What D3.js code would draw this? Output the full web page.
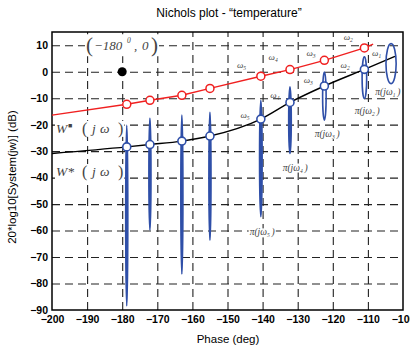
<!DOCTYPE html>
<html>
<head>
<meta charset="utf-8">
<script src="https://cdn.jsdelivr.net/npm/d3@7"></script>
<style>
  body { margin: 0; background: #fff; }
  svg text { font-family: "Liberation Sans", Arial, sans-serif; }
  .tick text { font-weight: bold; font-size: 10.5px; fill: #000; }
  text.serif { font-family: "Liberation Serif", "DejaVu Serif", serif; font-style: italic; fill: #444; }
</style>
</head>
<body>
<div id="chart"></div>
<script>
// x / y tick values
const phaseTicks = d3.range(-200, -99, 10);
const dbTicks = d3.range(-90, 11, 10);

// frequency points omega5..omega1 (left to right)
const pointPhase = [-178.7, -172.1, -163.0, -155.0, -140.5, -132.2, -122.4, -111.0];
const redDb = [-12.3, -10.8, -8.9, -6.3, -1.7, 0.8, 4.3, 9.0];
const blackDb = [-28.4, -27.5, -26.2, -24.3, -17.9, -11.6, -5.4, 0.9];

// full curves (start, points, end)
const redLinePhase = [-200, ...pointPhase, -108.5];
const redLineDb = [-16.4, ...redDb, 10.4];
const blackLinePhase = [-200, ...pointPhase, -102.3];
const blackLineDb = [-30.9, ...blackDb, 5.8];

// uncertainty templates
const tplPhase = [-178.7, -172.1, -163.0, -155.0, -140.5, -132.2, -122.4, -111.0, -103.4];
const tplTop = [-20.2, -17.5, -16.4, -15.3, -10.8, -5.7, -0.1, 5.6, 10.6];
const tplBottom = [-88.5, -59.8, -76.4, -63.6, -54.8, -30.9, -18.3, -10.1, -4.5];
const tplHalfWidth = [0.3, 0.3, 0.3, 0.3, 0.37, 0.37, 0.5, 0.65, 1.45];

// omega labels
const redOmegaPhase = [-146.0, -137.0, -126.2, -115.6, -107.5];
const redOmegaDb = [2.5, 5.7, 6.9, 13.2, 6.9];
const redOmegaIdx = [5, 4, 3, 2, 1];
const blackOmegaPhase = [-145.0, -136.5, -127.0, -116.5];
const blackOmegaDb = [-16.4, -8.8, -3.1, 2.5];
const blackOmegaIdx = [5, 4, 3, 2];

// pi labels
const piPhase = [-104.3, -110.2, -121.6, -130.7, -140.1];
const piDb = [-7.6, -14.5, -23.4, -36.0, -60.5];
const piIdx = [1, 2, 3, 4, 5];

const W = 410, H = 351;
const margin = { left: 52, right: 7, top: 32, bottom: 41 };

const svg = d3.select('#chart').append('svg').attr('width', W).attr('height', H);

const x = d3.scaleLinear().domain([-200, -100]).range([margin.left, W - margin.right]);
const y = d3.scaleLinear().domain([-90, 15]).range([H - margin.bottom, margin.top]);

const plotW = W - margin.left - margin.right;
const plotH = H - margin.top - margin.bottom;

// grid
const grid = svg.append('g');
grid.append('g')
  .attr('transform', `translate(0,${H - margin.bottom})`)
  .call(d3.axisBottom(x).tickValues(phaseTicks.slice(1, -1)).tickSize(-plotH).tickFormat(''))
  .call(g => g.select('.domain').remove());
grid.append('g')
  .attr('transform', `translate(${margin.left},0)`)
  .call(d3.axisLeft(y).tickValues(dbTicks.slice(1)).tickSize(-plotW).tickFormat(''))
  .call(g => g.select('.domain').remove());
grid.selectAll('line')
  .attr('stroke', '#222')
  .attr('stroke-width', 1.1)
  .attr('stroke-dasharray', '8,5');

// layer for white label backgrounds, above the grid
const bgLayer = svg.append('g');
function addBg(t, pad) {
  const bb = t.node().getBBox();
  bgLayer.append('rect')
    .attr('x', bb.x - pad).attr('y', bb.y + 1).attr('width', bb.width + 2 * pad).attr('height', bb.height - 2)
    .attr('fill', '#fff');
}

// axes labels
svg.append('g')
  .attr('transform', `translate(0,${H - margin.bottom})`)
  .call(d3.axisBottom(x).tickValues(phaseTicks).tickSize(0).tickPadding(6))
  .call(g => g.select('.domain').remove());
svg.append('g')
  .attr('transform', `translate(${margin.left},0)`)
  .call(d3.axisLeft(y).tickValues(dbTicks).tickSize(0).tickPadding(4))
  .call(g => g.select('.domain').remove());

// frame
svg.append('rect')
  .attr('x', margin.left).attr('y', margin.top)
  .attr('width', plotW).attr('height', plotH)
  .attr('fill', 'none').attr('stroke', '#000').attr('stroke-width', 1.5);

// titles
svg.append('text').attr('x', 229).attr('y', 17).attr('text-anchor', 'middle')
  .attr('font-size', 12).text('Nichols plot - \u201ctemperature\u201d');
svg.append('text').attr('x', 228).attr('y', 343).attr('text-anchor', 'middle')
  .attr('font-size', 11.5).text('Phase (deg)');
svg.append('text').attr('transform', 'translate(16,177) rotate(-90)').attr('text-anchor', 'middle')
  .attr('font-size', 11.5).text('20*log10[System(jw)] (dB)');

// annotations
const critY = y(10) + 5;
const crit = svg.append('text').attr('class', 'serif').attr('y', critY).attr('font-size', 13);
crit.append('tspan').attr('x', 86).attr('y', critY + 2).attr('font-size', 21).attr('font-style', 'normal').text('(');
crit.append('tspan').attr('x', 94).attr('y', critY).text('\u2212180');
crit.append('tspan').attr('x', 127).attr('y', critY - 7).attr('font-size', 7.5).text('0');
crit.append('tspan').attr('x', 134).attr('y', critY).text(',');
crit.append('tspan').attr('x', 142).attr('y', critY).text('0');
crit.append('tspan').attr('x', 151).attr('y', critY + 2).attr('font-size', 21).attr('font-style', 'normal').text(')');
addBg(crit, 1);

const wLabels = [['\u25a0', -23.1], ['*', -39.4]];
wLabels.forEach(([s, db]) => {
  const yy = y(db);
  const t = svg.append('text').attr('class', 'serif').attr('font-size', 13.5);
  t.append('tspan').attr('x', 56).attr('y', yy).text('W');
  if (s === '*') t.append('tspan').attr('x', 68).attr('y', yy).attr('font-style', 'normal').text('*');
  else t.append('tspan').attr('x', 68).attr('y', yy - 5).attr('font-size', 7).attr('font-style', 'normal').text(s);
  t.append('tspan').attr('x', 82).attr('y', yy + 1).attr('font-size', 16).attr('font-style', 'normal').text('(');
  t.append('tspan').attr('x', 92).attr('y', yy).text('j');
  t.append('tspan').attr('x', 100).attr('y', yy).text('\u03c9');
  t.append('tspan').attr('x', 118).attr('y', yy + 1).attr('font-size', 16).attr('font-style', 'normal').text(')');
  addBg(t, 1);
});

// omega labels
function omegaLabel(ph, db, idx) {
  const t = svg.append('text').attr('class', 'serif').attr('x', x(ph)).attr('y', y(db) + 3)
    .attr('text-anchor', 'middle').attr('font-size', 9);
  t.append('tspan').text('\u03c9');
  t.append('tspan').attr('font-size', 5.5).attr('dy', 2).text(idx);
}
redOmegaPhase.forEach((p, i) => omegaLabel(p, redOmegaDb[i], redOmegaIdx[i]));
blackOmegaPhase.forEach((p, i) => omegaLabel(p, blackOmegaDb[i], blackOmegaIdx[i]));

// pi labels
piPhase.forEach((p, i) => {
  const t = svg.append('text').attr('class', 'serif').attr('x', x(p)).attr('y', y(piDb[i]) + 3.5)
    .attr('text-anchor', 'middle').attr('font-size', 9.5);
  t.append('tspan').text('\u03c0(j\u03c9');
  t.append('tspan').attr('font-size', 5.5).attr('dy', 2).text(piIdx[i]);
  t.append('tspan').attr('dy', -2).text('\u2009)');
  addBg(t, 1);
});

// curves
const line = d3.line().x(d => x(d[0])).y(d => y(d[1])).curve(d3.curveMonotoneX);
svg.append('path').datum(blackLinePhase.map((p, i) => [p, blackLineDb[i]]))
  .attr('d', line).attr('fill', 'none').attr('stroke', '#000').attr('stroke-width', 1.4);
svg.append('path').datum(redLinePhase.map((p, i) => [p, redLineDb[i]]))
  .attr('d', line.curve(d3.curveLinear)).attr('fill', 'none').attr('stroke', '#f02020').attr('stroke-width', 1.4);

// templates
const blue = '#2f4fa8';
svg.append('g').selectAll('ellipse')
  .data(tplPhase)
  .join('ellipse')
  .attr('cx', d => x(d))
  .attr('cy', (d, i) => (y(tplTop[i]) + y(tplBottom[i])) / 2)
  .attr('rx', (d, i) => x(d + tplHalfWidth[i]) - x(d))
  .attr('ry', (d, i) => (y(tplBottom[i]) - y(tplTop[i])) / 2)
  .attr('fill', (d, i) => (x(d + tplHalfWidth[i]) - x(d) < 1.5 ? blue : 'none'))
  .attr('stroke', blue)
  .attr('stroke-width', 1.6);

// markers
svg.append('g').selectAll('circle')
  .data(pointPhase)
  .join('circle')
  .attr('cx', d => x(d)).attr('cy', (d, i) => y(redDb[i])).attr('r', 4)
  .attr('fill', '#fff').attr('stroke', '#f02020').attr('stroke-width', 1.5);
svg.append('g').selectAll('circle')
  .data(pointPhase)
  .join('circle')
  .attr('cx', d => x(d)).attr('cy', (d, i) => y(blackDb[i])).attr('r', 4)
  .attr('fill', '#fff').attr('stroke', blue).attr('stroke-width', 1.6);

// critical point
svg.append('circle').attr('cx', x(-180)).attr('cy', y(0)).attr('r', 4.5).attr('fill', '#000');
</script>
</body>
</html>
